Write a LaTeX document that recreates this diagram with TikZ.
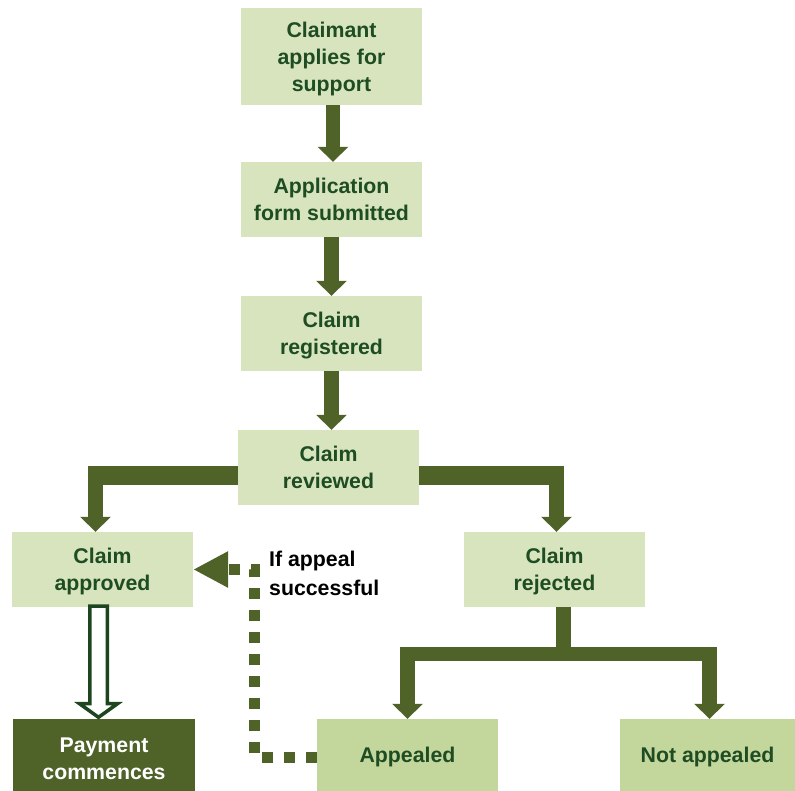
\documentclass[tikz,border=0pt]{standalone}
\usepackage{fontspec}
\setmainfont{Liberation Sans}
\usetikzlibrary{arrows.meta,calc}
\definecolor{arrowgreen}{HTML}{4F6228}
\definecolor{boxfill}{HTML}{D7E4BD}
\definecolor{boxfilltwo}{HTML}{C3D69B}
\definecolor{textgreen}{HTML}{1E4D24}
\definecolor{hollowgreen}{HTML}{1D4620}
\begin{document}
\begin{tikzpicture}[x=1pt,y=-1pt,
  box/.style={fill=boxfill, text=textgreen, font=\bfseries\fontsize{21.3}{27}\selectfont,
    align=center, inner sep=0pt, minimum width=181pt, minimum height=75pt, text depth=-1pt},
  bigarrow/.style={draw=arrowgreen, line width=14.5pt, line join=miter,
    -{Triangle[width=30pt,length=15pt]}},
  shaft/.style={draw=arrowgreen, line width=14.5pt},
  widebar/.style={draw=arrowgreen, line width=19pt},
  dotline/.style={draw=arrowgreen, line width=11pt, dash pattern=on 11pt off 11pt,
    -{Triangle[width=34pt,length=35pt]}},
  hollow/.style={draw=hollowgreen, fill=white, line width=3.5pt, line join=miter},
  note/.style={font=\bfseries\fontsize{21.3}{28.5}\selectfont, text=black, align=left,
    anchor=north west, inner sep=0pt}
]
\useasboundingbox (0,0) rectangle (795,791);

% boxes
\node[box, minimum height=97pt] (claimant) at (331.5,56.5) {Claimant\\applies for\\support};
\node[box] (form) at (331.5,199.5) {Application\\form submitted};
\node[box] (registered) at (331.5,333.5) {Claim\\registered};
\node[box] (reviewed) at (328.5,467.5) {Claim\\reviewed};
\node[box] (approved) at (102.5,569.5) {Claim\\approved};
\node[box] (rejected) at (554.5,569.5) {Claim\\rejected};
\node[box, fill=arrowgreen, text=white, minimum width=182pt, minimum height=72pt, text height=48pt] (payment) at (104,755) {Payment\\commences};
\node[box, fill=boxfilltwo, minimum height=72pt] (appealed) at (407.5,755) {Appealed};
\node[box, fill=boxfilltwo, minimum width=175pt, minimum height=72pt] (notappealed) at (707.5,755) {Not appealed};
\node[note] (cond) at (269,551) {If appeal\\successful};

% vertical chain
\draw[bigarrow] ($(claimant.south)+(1.5,0)$) -- ($(form.north)+(1.5,0)$);
\draw[bigarrow] ($(form.south)+(0,0)$) -- (form.south |- registered.north);
\draw[bigarrow] (registered.south) -- (registered.south |- reviewed.north);

% review branches
\coordinate (la) at ($(approved.north)+(-7,0)$);
\coordinate (ra) at ($(rejected.north)+(2,0)$);
\draw[widebar] ($(reviewed.west)+(0,8)$) -- ($(la |- reviewed.west)+(-7.25,8)$);
\draw[bigarrow] ($(la |- reviewed.west)+(0,-1.5)$) -- (la);
\draw[widebar] ($(reviewed.east)+(0,8)$) -- ($(ra |- reviewed.east)+(7.25,8)$);
\draw[bigarrow] ($(ra |- reviewed.east)+(0,-1.5)$) -- (ra);

% rejected split
\coordinate (j) at ($(rejected.south)+(9,47)$);
\draw[shaft] ($(rejected.south)+(9,0)$) -- ($(j)+(0,7)$);
\draw[bigarrow] (j) -| (appealed.north);
\draw[bigarrow] (j) -| ($(notappealed.north)+(2,0)$);

% hollow arrow approved -> payment
\coordinate (ha) at ($(approved.south)+(-4,0)$);
\draw[hollow] ($(ha)+(-8.75,-1)$) -- ($(ha)+(-8.75,96.5)$) -- ($(ha)+(-19,96.5)$)
  -- ($(payment.north)+(-5.5,-1.5)$) -- ($(ha)+(19,96.5)$) -- ($(ha)+(8.75,96.5)$)
  -- ($(ha)+(8.75,-1)$) -- cycle;

% dotted appeal connector
\coordinate (k) at ($(approved.east -| appealed.west)+(-62,0)$);
\draw[dotline] ($(appealed.west)+(0,2)$) -| (k) -- (approved.east);
\end{tikzpicture}
\end{document}
